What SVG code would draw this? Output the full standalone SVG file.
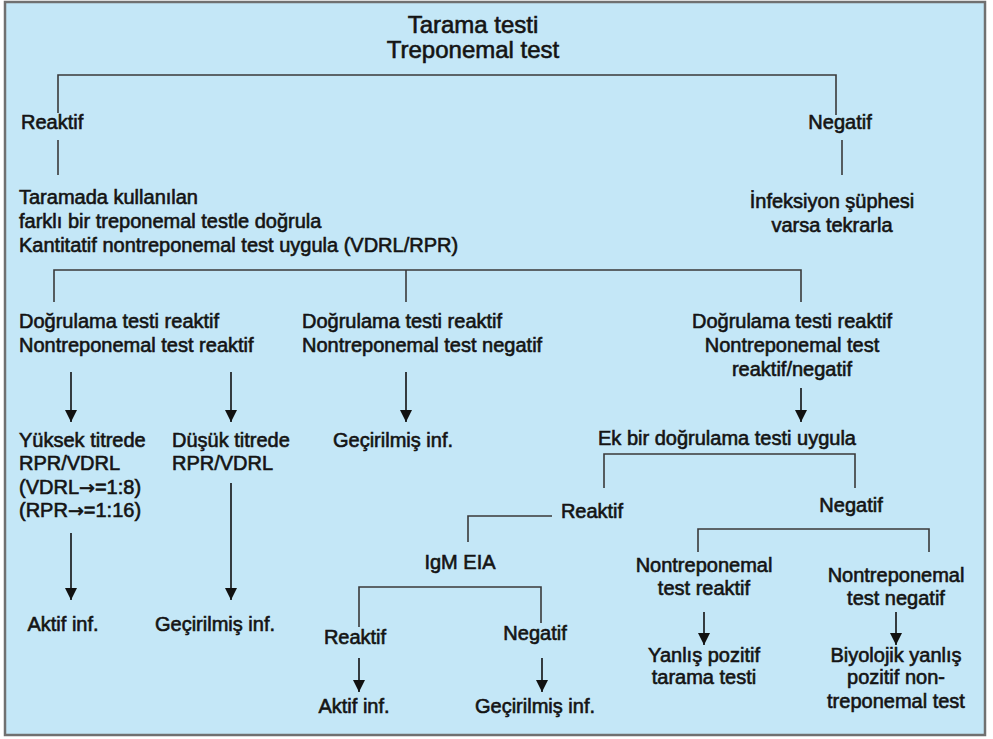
<svg xmlns="http://www.w3.org/2000/svg" width="993" height="739" viewBox="0 0 993 739">
<defs>
<style>
text{font-family:"Liberation Sans",Arial,sans-serif;font-size:20px;fill:#141414;stroke:#141414;stroke-width:0.6px}
.t{font-size:24px}
.m{text-anchor:middle}
.ar{font-family:"DejaVu Sans",sans-serif;font-size:19px}
.c path{fill:none;stroke:#3a3a3a;stroke-width:1.6}
.c .a{stroke:#111;marker-end:url(#ah)}
</style>
<marker id="ah" markerUnits="userSpaceOnUse" markerWidth="12" markerHeight="12" refX="11" refY="5.5" orient="auto" viewBox="0 0 11 11">
<path d="M0,0 L11,5.5 L0,11 z" fill="#111"/>
</marker>
</defs>
<rect x="0" y="0" width="993" height="739" fill="#ffffff"/>
<rect x="5" y="2" width="980" height="733" fill="#c4e7f7" stroke="#707070" stroke-width="2.5"/>

<g class="c" id="connectors">
<path d="M58,113 V75 H836 V115"/>
<path d="M58,140 V175"/>
<path d="M842,140 V175"/>
<path d="M54,302 V270 H801 V302"/>
<path d="M406,270 V302"/>
<path class="a" d="M71,372 V422"/>
<path class="a" d="M231,372 V422"/>
<path class="a" d="M406,372 V422"/>
<path class="a" d="M801,388 V422"/>
<path class="a" d="M71,533 V600"/>
<path class="a" d="M231,483 V600"/>
<path d="M604,488 V454 H855 V488"/>
<path d="M552,516 H468 V542"/>
<path d="M359,627 V587 H541 V623"/>
<path class="a" d="M359,658 V692"/>
<path class="a" d="M542,658 V692"/>
<path d="M698,552 V529 H929 V552"/>
<path class="a" d="M704,612 V645"/>
<path class="a" d="M896,612 V645"/>
</g>

<g id="n-root"><text class="t m" x="473" y="33">Tarama testi</text><text class="t m" x="473" y="58">Treponemal test</text></g>
<g id="n-reaktif1"><text x="21" y="129">Reaktif</text></g>
<g id="n-negatif1"><text class="m" x="840" y="129">Negatif</text></g>
<g id="n-dogrula"><text x="19" y="204">Taramada kullanılan</text><text x="19" y="228">farklı bir treponemal testle doğrula</text><text x="19" y="252">Kantitatif nontreponemal test uygula (VDRL/RPR)</text></g>
<g id="n-tekrar"><text class="m" x="832" y="208">İnfeksiyon şüphesi</text><text class="m" x="832" y="232">varsa tekrarla</text></g>
<g id="n-rr"><text x="19" y="328">Doğrulama testi reaktif</text><text x="19" y="352">Nontreponemal test reaktif</text></g>
<g id="n-rn"><text x="302" y="328">Doğrulama testi reaktif</text><text x="302" y="352">Nontreponemal test negatif</text></g>
<g id="n-rx"><text class="m" x="792" y="328">Doğrulama testi reaktif</text><text class="m" x="792" y="352">Nontreponemal test</text><text class="m" x="792" y="376">reaktif/negatif</text></g>
<g id="n-yuksek"><text x="19" y="447">Yüksek titrede</text><text x="19" y="470">RPR/VDRL</text><text x="19" y="494">(VDRL<tspan class="ar">→</tspan>=1:8)</text><text x="19" y="517">(RPR<tspan class="ar">→</tspan>=1:16)</text></g>
<g id="n-dusuk"><text x="172" y="447">Düşük titrede</text><text x="172" y="470">RPR/VDRL</text></g>
<g id="n-gecir1"><text class="m" x="393" y="447">Geçirilmiş inf.</text></g>
<g id="n-ek"><text class="m" x="727" y="445">Ek bir doğrulama testi uygula</text></g>
<g id="n-aktif1"><text class="m" x="63" y="631">Aktif inf.</text></g>
<g id="n-gecir2"><text class="m" x="215" y="631">Geçirilmiş inf.</text></g>
<g id="n-reaktif2"><text class="m" x="592" y="518">Reaktif</text></g>
<g id="n-negatif2"><text class="m" x="851" y="512">Negatif</text></g>
<g id="n-igm"><text class="m" x="460" y="569">IgM EIA</text></g>
<g id="n-reaktif3"><text class="m" x="355" y="644">Reaktif</text></g>
<g id="n-negatif3"><text class="m" x="535" y="640">Negatif</text></g>
<g id="n-aktif2"><text class="m" x="354" y="713">Aktif inf.</text></g>
<g id="n-gecir3"><text class="m" x="535" y="713">Geçirilmiş inf.</text></g>
<g id="n-ntr"><text class="m" x="704" y="572">Nontreponemal</text><text class="m" x="704" y="595">test reaktif</text></g>
<g id="n-ntn"><text class="m" x="896" y="582">Nontreponemal</text><text class="m" x="896" y="605">test negatif</text></g>
<g id="n-yp"><text class="m" x="704" y="662">Yanlış pozitif</text><text class="m" x="704" y="684">tarama testi</text></g>
<g id="n-by"><text class="m" x="896" y="662">Biyolojik yanlış</text><text class="m" x="896" y="684">pozitif non-</text><text class="m" x="896" y="708">treponemal test</text></g>
</svg>
